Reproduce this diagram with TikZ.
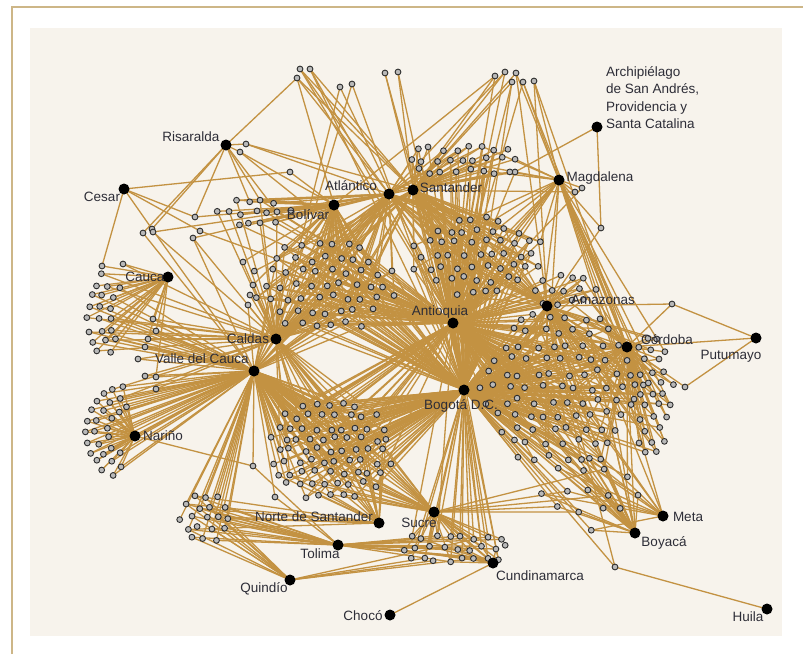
\documentclass[tikz,border=0pt]{standalone}
\usepackage{fontspec}
\setmainfont{Liberation Sans}
\definecolor{edgec}{RGB}{195,146,66}
\definecolor{bgc}{RGB}{247,243,236}
\definecolor{framec}{RGB}{205,182,135}
\definecolor{labc}{RGB}{45,45,55}
\definecolor{smc}{RGB}{45,45,45}
\definecolor{smf}{RGB}{185,185,185}
\newcount\nodecnt
\def\periph{
  297/78/{ris,san,atl,bol}, 300/69/{san,atl,ant}, 310/69/{san,ant,bog},
  340/87/{cal,ant}, 352/84/{cal,bog}, 385/73/{ant,bog}, 398/72/{san,ant},
  495/76/{san,bol,ant}, 505/72/{san,atl,ant}, 516/73/{san,mag,ama},
  512/82/{san,bog,ant}, 523/82/{mag,ant,cor}, 534/81/{mag,ama,cor},
  246/144/{ris,san,atl}, 240/152/{ris,bol,ant}, 290/172/{bol,ces},
  102/266/{ces,cau}, 123/264/{cau,cal}, 143/233/{ris,val}, 152/229/{ris,ces,val},
  153/232/{bol,cal}, 195/217/{ris,ces,bol}, 193/238/{bol,cal,val}, 200/231/{ces,ant},
  243/262/{bol,cal}, 253/466/{nar,val,tol}, 275/497/{val,tol},
  153/319/{val,cal,cau}, 156/331/{val,cau}, 148/339/{val,cal}, 145/347/{val,cau},
  138/359/{val,cal}, 145/376/{val,cal}, 156/377/{val,cau}, 156/389/{val,cal},
  253/285/{cal,bol}, 250/295/{cal,ant}, 248/305/{cal,val},
  615/567/{hui,bog,ama}, 685/387/{put,cor}, 672/304/{put,ama,cor},
  601/228/{arc,mag,ama}, 575/192/{mag,san}, 582/188/{mag,ant}, 515/172/{arc,san,ant}}
\def\clusters{
  462/160/62/20/13/{san/1,ant/0.5,bog/0.35,mag/0.25,atl/0.35},
  478/255/68/42/14/{ant/1,san/0.7,bog/0.6,atl/0.35,ama/0.25,mag/0.15},
  325/285/70/50/15/{ant/0.9,bog/0.6,bol/0.6,cal/0.6,val/0.4,atl/0.35,san/0.25},
  255/212/38/16/12/{bol/0.9,atl/0.6,ant/0.4,cal/0.35,ris/0.15,ces/0.1},
  330/450/60/56/13/{val/0.9,bog/0.9,ant/0.35,nor/0.25,suc/0.25,cal/0.25},
  560/387/80/82/16/{bog/0.95,ant/0.65,ama/0.3,cor/0.35,boy/0.12,met/0.12},
  652/395/20/62/13/{cor/1,ama/0.5,bog/0.45,mag/0.3},
  205/517/28/24/12/{val/0.75,tol/0.6,qui/0.55,nor/0.3},
  455/548/58/22/13/{suc/0.6,cun/0.55,tol/0.55,bog/0.55,ant/0.2,qui/0.1},
  590/492/52/40/22/{boy/0.6,met/0.45,bog/0.6,cor/0.3,suc/0.2},
  565/290/38/16/14/{ama/0.9,ant/0.6,cor/0.4,mag/0.3,bog/0.35}}
% crescent clusters: centre x/y, inner r, outer r, ring step, angle from, angle to, arc spacing, hubs
\def\rings{
  132/432/25/56/11/100/252/11/{nar/1,val/0.8,cal/0.15},
  160/316/50/76/11/145/215/11/{cau/0.85,val/0.7,cal/0.4,ris/0.08}}
\begin{document}
\begin{tikzpicture}[x=1pt,y=-1pt,
  hub/.style={circle,fill=black,inner sep=0pt,minimum size=11pt},
  sm/.style={circle,draw=smc,fill=smf,line width=0.9pt,inner sep=0pt,minimum size=5.8pt},
  edge/.style={draw=edgec,line width=1.3pt},
  lab/.style={font=\fontsize{13.5}{17.5}\selectfont,text=labc,inner sep=0pt}]
\useasboundingbox (0,0) rectangle (803,654);
\fill[white] (0,0) rectangle (803,654);
\draw[framec,line width=1.3pt] (12,654) -- (12,7) -- (803,7);
\fill[bgc] (30,28) rectangle (782,636);
% hub positions
\foreach \nm/\x/\y in {ris/226/145,ces/124/189,atl/389/194,bol/334/205,san/413/190,
  mag/559/180,arc/597/127,cau/168/277,ant/453/323,ama/547/306,cor/627/347,put/756/338,
  cal/276/339,val/254/371,bog/464/390,nar/135/436,nor/379/523,suc/434/512,tol/338/545,
  met/663/516,boy/635/533,cun/493/563,qui/290/580,cho/390/615,hui/767/609}
  {\coordinate (\nm) at (\x,\y);}
% direct hub links
\draw[edge] (put) -- (cor);
\draw[edge] (cho) -- (cun);
% peripheral small nodes: positions and edges
\foreach \x/\y/\hl [count=\k] in \periph {
  \coordinate (pc\k) at (\x,\y);
  \foreach \h in \hl {\draw[edge] (pc\k) -- (\h);}
}
\pgfmathsetseed{11}
% dense clusters on jittered hex grids
\foreach \cx/\cy/\wx/\wy/\s/\hl in \clusters {
  \pgfmathtruncatemacro\nx{\wx/\s+1}
  \pgfmathtruncatemacro\ny{\wy/(0.87*\s)+1}
  \foreach \b in {-\ny,...,\ny}{
    \foreach \a in {-\nx,...,\nx}{
      \pgfmathsetmacro\gx{\a*\s+mod(abs(\b),2)*\s/2}
      \pgfmathsetmacro\gy{\b*0.87*\s}
      \pgfmathtruncatemacro\inside{((\gx/\wx)^2+(\gy/\wy)^2<=1) ? 1 : 0}
      \ifnum\inside=1
        \global\advance\nodecnt by 1
        \pgfmathsetmacro\px{\cx+\gx+0.22*\s*rand}
        \pgfmathsetmacro\py{\cy+\gy+0.22*\s*rand}
        \coordinate (rc\the\nodecnt) at (\px,\py);
        \foreach \h/\p in \hl {
          \pgfmathtruncatemacro\ok{rnd<\p ? 1 : 0}
          \ifnum\ok=1 \draw[edge] (rc\the\nodecnt) -- (\h);\fi
        }
      \fi
    }
  }
}
% crescent clusters
\foreach \cx/\cy/\ra/\rb/\dr/\aa/\ab/\s/\hl in \rings {
  \pgfmathtruncatemacro\nr{(\rb-\ra)/\dr}
  \foreach \j in {0,...,\nr}{
    \pgfmathsetmacro\rad{\ra+\j*\dr}
    \pgfmathtruncatemacro\na{(\ab-\aa)/180*3.1416*\rad/\s}
    \foreach \m in {0,...,\na}{
      \pgfmathsetmacro\ang{\aa+(\m+0.5*mod(\j,2))*(\ab-\aa)/(\na+0.5)}
      \global\advance\nodecnt by 1
      \pgfmathsetmacro\px{\cx+\rad*cos(\ang)+1.5*rand}
      \pgfmathsetmacro\py{\cy-\rad*sin(\ang)+1.5*rand}
      \coordinate (rc\the\nodecnt) at (\px,\py);
      \foreach \h/\p in \hl {
        \pgfmathtruncatemacro\ok{rnd<\p ? 1 : 0}
        \ifnum\ok=1 \draw[edge] (rc\the\nodecnt) -- (\h);\fi
      }
    }
  }
}
% small nodes on top
\foreach \x/\y/\hl [count=\k] in \periph {\node[sm] (p\k) at (pc\k) {};}
\foreach \i in {1,...,\the\nodecnt} {\node[sm] (r\i) at (rc\i) {};}
% hubs on top
\foreach \nm in {ris,ces,atl,bol,san,mag,arc,cau,ant,ama,cor,put,cal,val,bog,nar,nor,suc,tol,met,boy,cun,qui,cho,hui}
  {\node[hub] (n-\nm) at (\nm) {};}
% labels
\node[lab] (l-ris) at (191,137) {Risaralda};
\node[lab] (l-ces) at (102,197) {Cesar};
\node[lab] (l-atl) at (351,186) {Atlántico};
\node[lab] (l-bol) at (308,215) {Bolívar};
\node[lab] (l-san) at (451,188) {Santander};
\node[lab] (l-mag) at (600,178) {Magdalena};
\node[lab,align=left,anchor=north west] (l-arc) at (606,66) {Archipiélago\\de San Andrés,\\Providencia y\\Santa Catalina};
\node[lab] (l-cau) at (145,277) {Cauca};
\node[lab] (l-ant) at (440,312) {Antioquia};
\node[lab] (l-ama) at (603,300) {Amazonas};
\node[lab] (l-cor) at (667,340) {Córdoba};
\node[lab] (l-put) at (731,356) {Putumayo};
\node[lab] (l-cal) at (248,339) {Caldas};
\node[lab] (l-val) at (202,359) {Valle del Cauca};
\node[lab] (l-bog) at (461,406) {Bogotá D.C.};
\node[lab] (l-nar) at (163,436) {Nariño};
\node[lab] (l-nor) at (314,517) {Norte de Santander};
\node[lab] (l-suc) at (419,523) {Sucre};
\node[lab] (l-tol) at (320,554) {Tolima};
\node[lab] (l-met) at (688,517) {Meta};
\node[lab] (l-boy) at (664,543) {Boyacá};
\node[lab] (l-cun) at (540,576) {Cundinamarca};
\node[lab] (l-qui) at (264,589) {Quindío};
\node[lab] (l-cho) at (363,616) {Chocó};
\node[lab] (l-hui) at (748,617) {Huila};
\end{tikzpicture}
\end{document}
